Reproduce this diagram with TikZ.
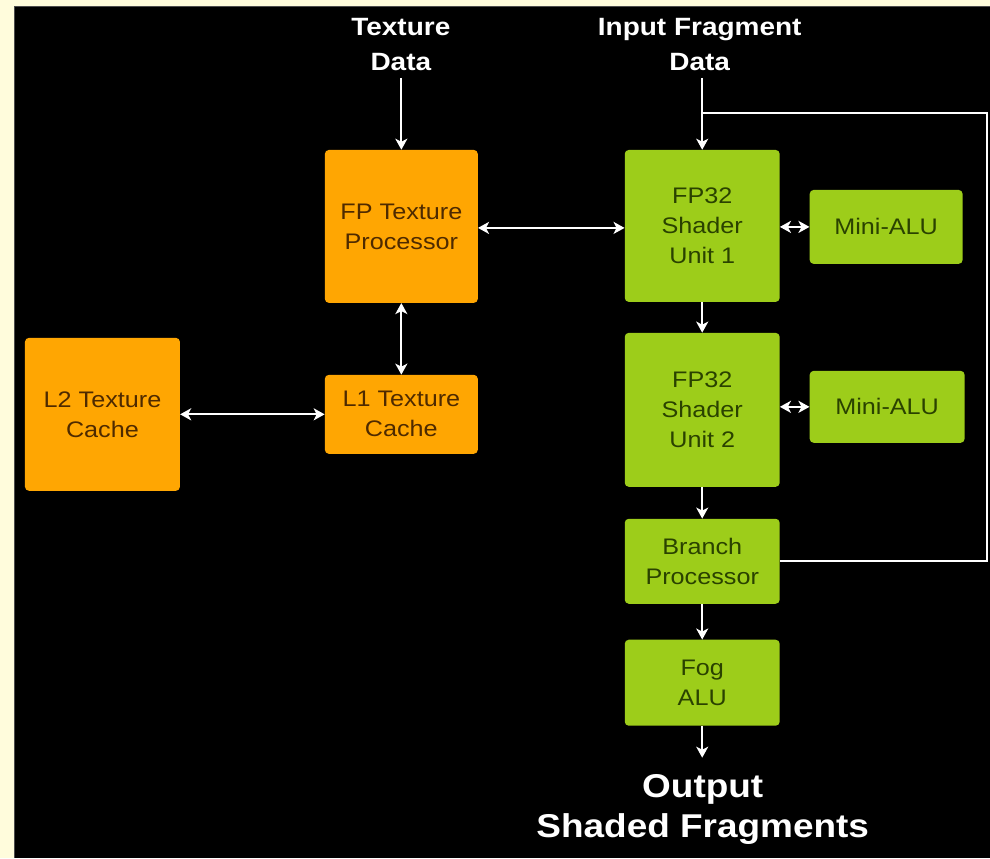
\documentclass[tikz,border=0pt]{standalone}
\usepackage{fontspec}
\setmainfont[FakeStretch=1.12]{Liberation Sans}
\usetikzlibrary{arrows.meta}
\definecolor{cream}{HTML}{FFFCDC}
\definecolor{orng}{HTML}{FFA602}
\definecolor{grn}{HTML}{9DCD1A}
\definecolor{brn}{HTML}{4E2A00}
\definecolor{dgrn}{HTML}{2A4200}
\tikzset{
  box/.style={rounded corners=4pt, inner sep=0pt, align=center,
    font=\fontsize{22.5}{30}\selectfont},
  obox/.style={box, fill=orng, text=brn},
  gbox/.style={box, fill=grn, text=dgrn},
  title/.style={text=white, align=center, font=\bfseries\fontsize{25}{35}\selectfont},
  bigtitle/.style={text=white, align=center, font=\bfseries\fontsize{33}{40}\selectfont},
  wire/.style={white, line width=2.2pt},
  arr/.style={wire, -{Stealth[length=11pt,width=12pt,inset=3pt]}},
  darr/.style={wire, {Stealth[length=11pt,width=12pt,inset=3pt]}-{Stealth[length=11pt,width=12pt,inset=3pt]}},
}
\begin{document}
\begin{tikzpicture}[x=1pt,y=-1pt]
\fill[cream] (0,0) rectangle (990,858);
\fill[black] (14,6) rectangle (990,858);
\draw[gray!60!black, line width=0.8pt] (14,858) -- (14,6) -- (990,6);
\useasboundingbox (0,0) rectangle (990,858);

% titles
\node[title] (td) at (401,45) {Texture\\Data};
\node[title] (ifd) at (700,45) {Input Fragment\\Data};
\node[bigtitle] (out) at (703,810) {Output\\Shaded Fragments};

% orange boxes
\node[obox, minimum width=153pt, minimum height=153pt] (ftp) at (401.5,226.5) {FP Texture\\Processor};
\node[obox, minimum width=153pt, minimum height=79pt] (l1) at (401.5,414.5) {L1 Texture\\Cache};
\node[obox, minimum width=155pt, minimum height=153pt] (l2) at (102.5,414.5) {L2 Texture\\Cache};

% green boxes
\node[gbox, minimum width=155pt, minimum height=152pt] (su1) at (702.5,226) {FP32\\Shader\\Unit 1};
\node[gbox, minimum width=155pt, minimum height=154pt] (su2) at (702.5,410) {FP32\\Shader\\Unit 2};
\node[gbox, minimum width=155pt, minimum height=85pt] (bp) at (702.5,561.5) {Branch\\Processor};
\node[gbox, minimum width=155pt, minimum height=86pt] (fog) at (702.5,683) {Fog\\ALU};
\node[gbox, minimum width=153pt, minimum height=74pt] (ma1) at (886.5,227) {Mini-ALU};
\node[gbox, minimum width=155pt, minimum height=72pt] (ma2) at (887.5,407) {Mini-ALU};

% coordinates
\coordinate (tds) at (401.5,78);
\coordinate (ifs) at (702.5,78);
\coordinate (j) at (702.5,113);
\coordinate (c1) at (987,113);
\coordinate (c2) at (987,561.5);
\coordinate (oe) at (702.5,758);

% connectors
\draw[arr] (tds) -- (ftp.north);
\draw[arr] (ifs) -- (su1.north);
\draw[wire] (bp.east) -- (c2) -- (c1) -- (j);
\draw[darr] (ftp.east |- 0,228) -- (su1.west |- 0,228);
\draw[darr] (ftp.south) -- (l1.north);
\draw[darr] (l2.east) -- (l1.west);
\draw[darr] (su1.east |- ma1.west) -- (ma1.west);
\draw[darr] (su2.east |- ma2.west) -- (ma2.west);
\draw[arr] (su1.south) -- (su2.north);
\draw[arr] (su2.south) -- (bp.north);
\draw[arr] (bp.south) -- (fog.north);
\draw[arr] (fog.south) -- (oe);
\end{tikzpicture}
\end{document}
